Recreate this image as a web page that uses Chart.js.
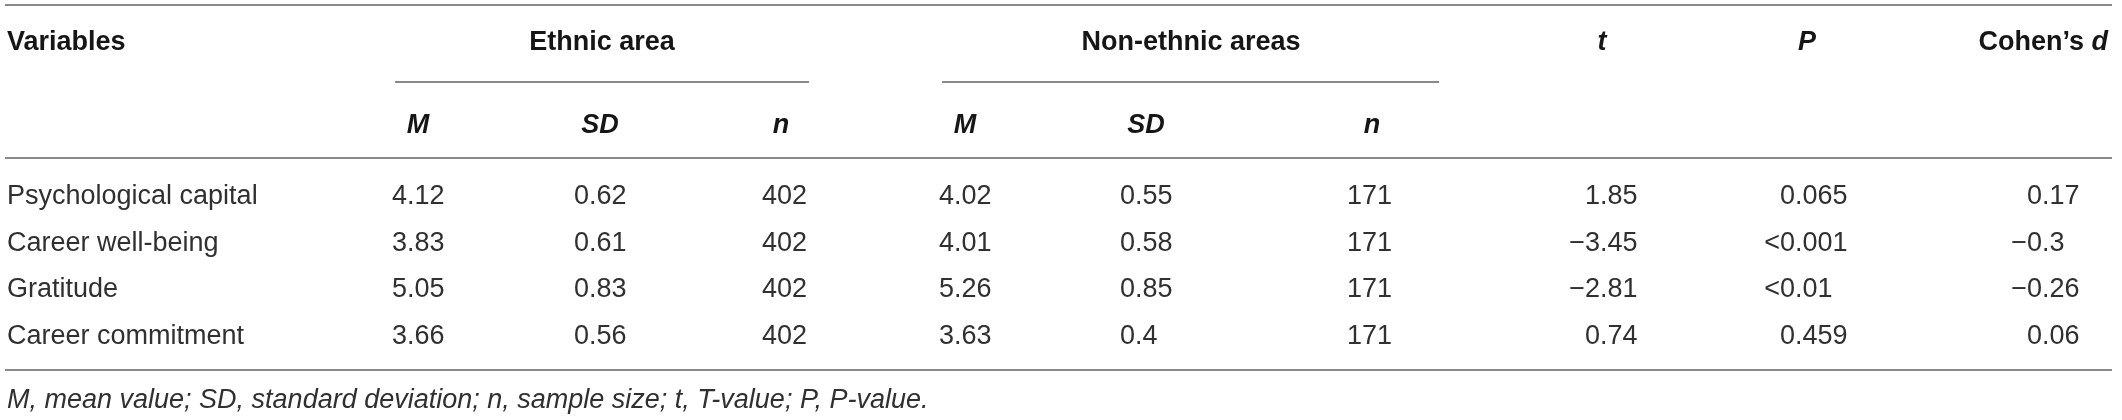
<!DOCTYPE html>
<html>
<head>
<meta charset="utf-8">
<script src="https://cdn.jsdelivr.net/npm/chart.js@4.4.1/dist/chart.umd.min.js"></script>
<style>
  body { margin: 0; background: #fff; }
  #wrap { width: 2122px; height: 420px; }
</style>
</head>
<body>
<div id="wrap"><canvas id="table-chart"></canvas></div>
<script>
// table values
var variables = ["Psychological capital", "Career well-being", "Gratitude", "Career commitment"];
var ethnicM = [4.12, 3.83, 5.05, 3.66];
var ethnicSD = [0.62, 0.61, 0.83, 0.56];
var ethnicN = [402, 402, 402, 402];
var nonEthnicM = [4.02, 4.01, 5.26, 3.63];
var nonEthnicSD = [0.55, 0.58, 0.85, 0.4];
var nonEthnicN = [171, 171, 171, 171];
var tValues = [1.85, -3.45, -2.81, 0.74];
var pValues = ["0.065", "<0.001", "<0.01", "0.459"];
var cohensD = [0.17, -0.3, -0.26, 0.06];

var groupHeaders = ["Ethnic area", "Non-ethnic areas"];
var subHeaders = ["M", "SD", "n", "M", "SD", "n"];
var footnote = "M, mean value; SD, standard deviation; n, sample size; t, T-value; P, P-value.";

// layout (in chart units, the scales span the canvas)
var columnAnchors = [407, 589, 807, 954, 1135, 1392, 1600, 1795, 2042]; // decimal point x
var subHeaderX = [418, 600, 781, 965, 1146, 1372];
var groupHeaderX = [602, 1191];
var rowBaselines = [204, 251, 297, 344];
var headerBaseline = 50;
var subHeaderBaseline = 133;
var footBaseline = 408;
var ruleLines = [
  {y: 5, x0: 5, x1: 2112},
  {y: 82, x0: 395, x1: 809},
  {y: 82, x0: 942, x1: 1439},
  {y: 158, x0: 5, x1: 2112},
  {y: 370, x0: 5, x1: 2112}
];

var FONT = "'Liberation Sans', Arial, sans-serif";
var headColor = "#161616";
var bodyColor = "#303030";

function fmt(v) {
  return String(v).replace("-", "\u2212");
}

var columns = [ethnicM, ethnicSD, ethnicN, nonEthnicM, nonEthnicSD, nonEthnicN, tValues, pValues, cohensD];

var rulesData = ruleLines.map(function(r) {
  return {
    type: "line",
    data: [{x: r.x0, y: r.y}, {x: r.x1, y: r.y}],
    borderColor: "#8a8a8a",
    borderWidth: 2,
    pointRadius: 0,
    fill: false
  };
});

var tablePlugin = {
  id: "tableText",
  afterDatasetsDraw: function(chart) {
    var ctx = chart.ctx;
    var xs = chart.scales.x;
    var ys = chart.scales.y;
    ctx.save();
    ctx.fillStyle = headColor;
    ctx.textBaseline = "alphabetic";

    // header row
    ctx.font = "bold 27px " + FONT;
    ctx.textAlign = "left";
    ctx.fillText("Variables", xs.getPixelForValue(7), ys.getPixelForValue(headerBaseline));
    ctx.textAlign = "center";
    for (var g = 0; g < groupHeaders.length; g++) {
      ctx.fillText(groupHeaders[g], xs.getPixelForValue(groupHeaderX[g]), ys.getPixelForValue(headerBaseline));
    }
    ctx.font = "italic bold 27px " + FONT;
    ctx.fillText("t", xs.getPixelForValue(1602), ys.getPixelForValue(headerBaseline));
    ctx.fillText("P", xs.getPixelForValue(1807), ys.getPixelForValue(headerBaseline));
    ctx.textAlign = "right";
    var dRight = xs.getPixelForValue(2108);
    ctx.fillText("d", dRight, ys.getPixelForValue(headerBaseline));
    var dW = ctx.measureText("d").width;
    ctx.font = "bold 27px " + FONT;
    ctx.fillText("Cohen\u2019s ", dRight - dW, ys.getPixelForValue(headerBaseline));

    // sub header row
    ctx.font = "italic bold 27px " + FONT;
    ctx.textAlign = "center";
    for (var s = 0; s < subHeaders.length; s++) {
      ctx.fillText(subHeaders[s], xs.getPixelForValue(subHeaderX[s]), ys.getPixelForValue(subHeaderBaseline));
    }

    // body
    ctx.fillStyle = bodyColor;
    ctx.font = "27px " + FONT;
    ctx.textAlign = "left";
    for (var r = 0; r < variables.length; r++) {
      var yb = ys.getPixelForValue(rowBaselines[r]);
      ctx.fillText(variables[r], xs.getPixelForValue(7), yb);
      for (var c = 0; c < columns.length; c++) {
        var txt = fmt(columns[c][r]);
        var intPart = txt.indexOf(".") >= 0 ? txt.split(".")[0] : txt;
        var x = xs.getPixelForValue(columnAnchors[c]) - ctx.measureText(intPart).width;
        ctx.fillText(txt, x, yb);
      }
    }

    // footnote
    ctx.font = "italic 27px " + FONT;
    ctx.fillText(footnote, xs.getPixelForValue(7), ys.getPixelForValue(footBaseline));
    ctx.restore();
  }
};

new Chart(document.getElementById("table-chart"), {
  type: "scatter",
  data: { datasets: rulesData },
  options: {
    responsive: true,
    maintainAspectRatio: false,
    devicePixelRatio: 1,
    animation: false,
    layout: { padding: 0 },
    plugins: { legend: { display: false }, tooltip: { enabled: false } },
    scales: {
      x: { type: "linear", min: 0, max: 2122, display: false },
      y: { type: "linear", min: 0, max: 420, reverse: true, display: false }
    }
  },
  plugins: [tablePlugin]
});
</script>
</body>
</html>
